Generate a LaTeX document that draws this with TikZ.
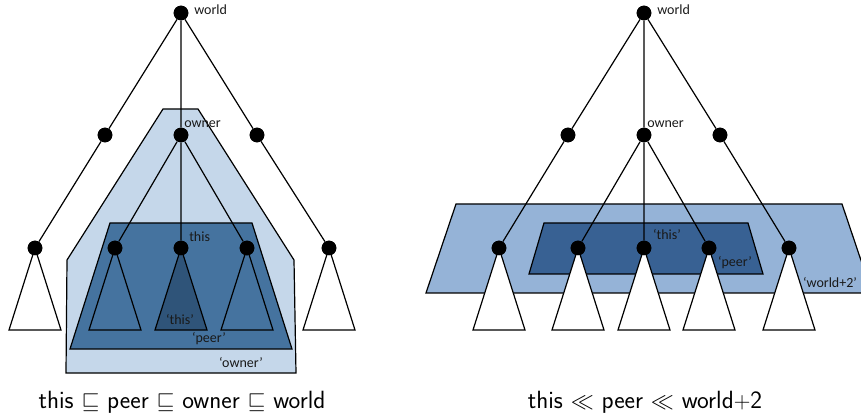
\documentclass[tikz,border=0pt]{standalone}
\usepackage{fontspec}
\usepackage{amssymb}
\newfontfamily\lblfont{Carlito}
\definecolor{ownerc}{HTML}{C5D7EA}
\definecolor{peerc}{HTML}{45739F}
\definecolor{thisc}{HTML}{2F5479}
\definecolor{worldtwoc}{HTML}{95B3D7}
\definecolor{peertwoc}{HTML}{386193}
\tikzset{
  dot/.style={circle,fill=black,inner sep=0pt,minimum size=11pt},
  region/.style={draw=black,line width=0.9pt,line join=miter},
  edge/.style={draw=black,line width=0.9pt},
  tri/.style={draw=black,line width=0.9pt,fill=white},
  opentri/.style={draw=black,line width=0.9pt},
  lbl/.style={font=\lblfont\fontsize{10.5}{12}\selectfont,inner sep=0pt,text=black!90},
  captext/.style={font=\sffamily\fontsize{18.7}{21}\selectfont,inner sep=0pt}
}
\begin{document}
\begin{tikzpicture}[x=0.75pt,y=-0.75pt]
\useasboundingbox (0,0) rectangle (861,417);
\begin{scope}
\clip (0,0) rectangle (861,417);
% ---------- left regions
\draw[region,fill=ownerc] (163,109) -- (198,109) -- (294,260) -- (296,373) -- (66,373) -- (67,260) -- cycle;
\draw[region,fill=peerc] (110,223) -- (252,223) -- (292,349) -- (70,349) -- cycle;
% ---------- right regions
\draw[region,fill=worldtwoc] (456,204) -- (842,204) -- (872,293) -- (426,293) -- cycle;
\draw[region,fill=peertwoc] (544,223) -- (748,223) -- (763,274) -- (529,274) -- cycle;
\end{scope}

% ---------- left tree nodes
\node[dot] (w) at (181,13) {};
\node[dot] (a) at (105,135) {};
\node[dot] (o) at (181,135) {};
\node[dot] (b) at (257,135) {};
\node[dot] (la) at (35,248) {};
\node[dot] (p1) at (115,248) {};
\node[dot] (t) at (181,248) {};
\node[dot] (p2) at (247,248) {};
\node[dot] (lb) at (329,248) {};

\draw[edge] (w) -- (a) (w) -- (o) (w) -- (b) (a) -- (la) (b) -- (lb)
  (o) -- (p1) (o) -- (t) (o) -- (p2);

\draw[tri] (la.center) -- ++(-26,82) -- ++(52,0) -- cycle;
\draw[opentri] (p1.center) -- ++(-26,82) -- ++(52,0) -- cycle;
\draw[tri,fill=thisc] (t.center) -- ++(-26,82) -- ++(52,0) -- cycle;
\draw[opentri] (p2.center) -- ++(-26,82) -- ++(52,0) -- cycle;
\draw[tri] (lb.center) -- ++(-26,82) -- ++(52,0) -- cycle;

\foreach \n in {w,a,o,b,la,p1,t,p2,lb} \node[dot] at (\n) {};

\node[lbl,anchor=west] (wl) at (194,10) {world};
\node[lbl,anchor=west] (ol) at (184,124) {owner};
\node[lbl,anchor=west] (tl) at (189,237) {this};
\node[lbl] (tq) at (180,320) {‘this’};
\node[lbl] (pq) at (209,339) {‘peer’};
\node[lbl] (oq) at (241,362) {‘owner’};

% ---------- right tree nodes
\node[dot] (W) at (644,13) {};
\node[dot] (A) at (568,135) {};
\node[dot] (O) at (644,135) {};
\node[dot] (B) at (720,135) {};
\node[dot] (LA) at (499,248) {};
\node[dot] (P1) at (578,248) {};
\node[dot] (T) at (644,248) {};
\node[dot] (P2) at (709,248) {};
\node[dot] (LB) at (789,248) {};

\draw[edge] (W) -- (A) (W) -- (O) (W) -- (B) (A) -- (LA) (B) -- (LB)
  (O) -- (P1) (O) -- (T) (O) -- (P2);

\draw[tri] (LA.center) -- ++(-26,82) -- ++(52,0) -- cycle;
\draw[tri] (P1.center) -- ++(-26,82) -- ++(52,0) -- cycle;
\draw[tri] (T.center) -- ++(-26,82) -- ++(52,0) -- cycle;
\draw[tri] (P2.center) -- ++(-26,82) -- ++(52,0) -- cycle;
\draw[tri] (LB.center) -- ++(-26,82) -- ++(52,0) -- cycle;

\foreach \n in {W,A,O,B,LA,P1,T,P2,LB} \node[dot] at (\n) {};

\node[lbl,anchor=west] (Wl) at (657,10) {world};
\node[lbl,anchor=west] (Ol) at (647,124) {owner};
\node[lbl] (Tq) at (667,235) {‘this’};
\node[lbl] (Pq) at (735,263) {‘peer’};
\node[lbl] (Wq) at (830,282) {‘world+2’};

% ---------- captions
\node[captext] (c1) at (182,402) {this $\sqsubseteq$ peer $\sqsubseteq$ owner $\sqsubseteq$ world};
\node[captext] (c2) at (645,402) {this $\ll$ peer $\ll$ world$+$2};
\end{tikzpicture}
\end{document}
